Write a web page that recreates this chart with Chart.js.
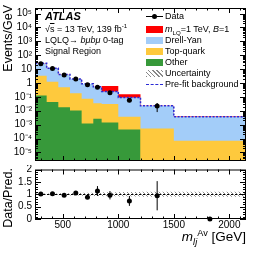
<!DOCTYPE html>
<html>
<head>
<meta charset="utf-8">
<script src="https://cdn.jsdelivr.net/npm/chart.js@4.4.1/dist/chart.umd.min.js"></script>
<style>
  html, body { margin: 0; padding: 0; background: #fff; }
  body { width: 266px; height: 255px; position: relative; overflow: hidden;
         font-family: 'Liberation Sans', Arial, sans-serif; color: #000; }
  canvas { position: absolute; left: 0; }
  #main { top: 0; }
  #ratio { top: 165px; }
  .txt { position: absolute; white-space: nowrap; font-size: 9px; line-height: 12px; }
  .box { position: absolute; left: 146px; width: 17px; height: 7px; }
  .vt { position: absolute; left: 1px; width: 90px; transform-origin: 0 0; transform: rotate(-90deg);
        text-align: right; white-space: nowrap; font-size: 12.5px; line-height: 14px; }
  sub, sup { font-size: 0.68em; line-height: 0; }
</style>
</head>
<body>
<canvas id="main" width="266" height="165"></canvas>
<canvas id="ratio" width="266" height="90"></canvas>

<div class="txt" style="left:45px;top:10px;font-size:11px;font-weight:bold;font-style:italic">ATLAS</div>
<div class="txt" style="left:45px;top:23px">√<span style="text-decoration:overline">s</span> = 13 TeV, 139 fb<sup>-1</sup></div>
<div class="txt" style="left:45px;top:34px">LQLQ→ <i>bμbμ</i> 0-tag</div>
<div class="txt" style="left:45px;top:45px">Signal Region</div>

<div style="position:absolute;left:146px;top:16px;width:17px;height:1px;background:#000"></div>
<div style="position:absolute;left:152px;top:14px;width:5px;height:5px;border-radius:50%;background:#000"></div>
<div class="txt" style="left:165px;top:10px">Data</div>
<div class="box" style="top:26px;background:#ff0000"></div>
<div class="txt" style="left:165px;top:23px"><i>m</i><sub>LQ</sub>=1 TeV, <i>B</i>=1</div>
<div class="box" style="top:37px;background:#a3cdf9"></div>
<div class="txt" style="left:165px;top:34px">Drell-Yan</div>
<div class="box" style="top:48px;background:#fec93d"></div>
<div class="txt" style="left:165px;top:45px">Top-quark</div>
<div class="box" style="top:59px;background:#37993a"></div>
<div class="txt" style="left:165px;top:56px">Other</div>
<div class="box" style="top:70px;background:repeating-linear-gradient(45deg,#888 0 1px,#fff 1px 3px)"></div>
<div class="txt" style="left:165px;top:67px">Uncertainty</div>
<div style="position:absolute;left:146px;top:84px;width:17px;border-top:1.5px dashed #2a2ad4"></div>
<div class="txt" style="left:165px;top:78px">Pre-fit background</div>

<div class="vt" style="top:95px">Events/GeV</div>
<div class="vt" style="top:258px">Data/Pred.</div>
<div class="txt" style="right:20px;top:229px;font-size:13.5px;line-height:16px"><i>m</i><sub><i>lj</i></sub><sup>Av</sup> [GeV]</div>

<script>
// bin edges in GeV (last bin runs to the plot edge)
const binEdges = [250, 355, 460, 565, 670, 775, 850, 1000, 1200, 1500, 2150];

// Events/GeV per bin
const otherBkg  = [0.124, 0.042, 0.018, 0.0105, 0.0012, 0.0027, 0.0014, 0.00044]; // stops at 1200 GeV
const topQuark  = [3.2, 1.2, 0.47, 0.17, 0.071, 0.032, 0.029, 0.0033, 0.00053, 0.000069];
const drellYan  = [22.2, 10.0, 3.4, 1.75, 0.78, 0.49, 0.21, 0.085, 0.0215, 0.0035];
const signalLQ  = [0, 0, 0, 0.001, 0.003, 0.008, 0.37, 0.066, 0.0012, 0.0002];
const prefitBkg = [26, 11.6, 4.0, 1.96, 0.87, 0.53, 0.245, 0.09, 0.0225, 0.0037];

// data (last bin is empty)
const dataObs = [24, 10.8, 3.8, 1.9, 0.74, 0.5, 0.2, 0.058, 0.022];
const dataErr = [0.5, 0.3, 0.17, 0.1, 0.05, 0.09, 0.036, 0.016, 0.014];

// lower panel
const ratioVals = [1.01, 1.02, 0.96, 1.05, 0.88, 1.13, 0.96, 0.73, 0.94, 0];
const ratioErr  = [0.02, 0.03, 0.04, 0.05, 0.06, 0.2, 0.17, 0.2, 0.59, 0];
const ratioUnc  = [0.03, 0.03, 0.04, 0.05, 0.06, 0.07, 0.08, 0.09, 0.1, 0.1];

// axes
const xMin = 250, xMax = 2150;
const xTickVals   = [500, 1000, 1500, 2000];
const xTickLabels = ['500', '1000', '1500', '2000'];
const yMin = 2.4e-6, yMax = 2.5e5;
const yTickVals   = [1e-5, 1e-4, 1e-3, 1e-2, 1e-1, 1, 10, 1e2, 1e3, 1e4, 1e5];
const yTickLabels = ['10⁻⁵', '10⁻⁴', '10⁻³', '10⁻²', '10⁻¹', '1', '10', '10²', '10³', '10⁴', '10⁵'];
const rTickVals   = [0, 0.5, 1, 1.5, 2];
const rTickLabels = ['0', '0.5', '1', '1.5', '2'];

Chart.defaults.font.family = "'Liberation Sans', Arial, sans-serif";
Chart.defaults.font.size = 10;
Chart.defaults.color = '#000';

const NONE = 'rgba(0,0,0,0)';
const centers = binEdges.slice(0, -1).map((e, i) => (e + binEdges[i + 1]) / 2);

// histogram -> points for a stepped line
function steps(vals) {
  const pts = vals.map((v, i) => ({ x: binEdges[i], y: v }));
  pts.push({ x: binEdges[vals.length], y: vals[vals.length - 1] });
  return pts;
}
function cumulate(...layers) {
  const n = Math.max(...layers.map(l => l.length));
  return Array.from({ length: n }, (_, i) => layers.reduce((s, l) => s + (l[i] || 0), 0));
}
function stackLayer(vals, color) {
  return { data: steps(vals), stepped: true, fill: 'start', backgroundColor: color,
           borderColor: NONE, borderWidth: 1, pointRadius: 0 };
}
function hatchPattern() {
  const c = document.createElement('canvas');
  c.width = 4; c.height = 4;
  const g = c.getContext('2d');
  g.strokeStyle = '#8c8c8c'; g.lineWidth = 1;
  g.beginPath();
  g.moveTo(0, 0); g.lineTo(4, 4);
  g.moveTo(-2, 2); g.lineTo(2, 6);
  g.moveTo(2, -2); g.lineTo(6, 2);
  g.stroke();
  return g.createPattern(c, 'repeat');
}
const fixedY = w => s => { s.width = w; s.paddingTop = 0; s.paddingBottom = 0; };

const errorBars = (xs, vals, errs) => ({
  id: 'errorBars',
  afterDatasetsDraw(chart) {
    const { ctx, scales: { x, y } } = chart;
    ctx.save();
    ctx.strokeStyle = '#000'; ctx.lineWidth = 1;
    ctx.beginPath();
    vals.forEach((v, i) => {
      if (!errs[i]) return;
      const px = x.getPixelForValue(xs[i]);
      ctx.moveTo(px, y.getPixelForValue(v + errs[i]));
      ctx.lineTo(px, y.getPixelForValue(Math.max(v - errs[i], y.min)));
    });
    ctx.stroke();
    ctx.restore();
  }
});

// ATLAS style frame with inward ticks on all sides
const axisFrame = (yMajors, yMinors) => ({
  id: 'axisFrame',
  afterDraw(chart) {
    const { ctx, chartArea: a, scales: { x, y } } = chart;
    ctx.save();
    ctx.strokeStyle = '#000'; ctx.lineWidth = 1;
    ctx.strokeRect(a.left + 0.5, a.top + 0.5, a.right - a.left - 1, a.bottom - a.top - 1);
    ctx.beginPath();
    for (let v = 300; v < xMax; v += 100) {
      const px = Math.round(x.getPixelForValue(v)) + 0.5;
      const len = v % 500 === 0 ? 5 : 2.5;
      ctx.moveTo(px, a.bottom); ctx.lineTo(px, a.bottom - len);
      ctx.moveTo(px, a.top); ctx.lineTo(px, a.top + len);
    }
    const yTick = (v, len) => {
      const py = Math.round(y.getPixelForValue(v)) + 0.5;
      ctx.moveTo(a.left, py); ctx.lineTo(a.left + len, py);
      ctx.moveTo(a.right, py); ctx.lineTo(a.right - len, py);
    };
    yMajors.forEach(v => yTick(v, 6));
    yMinors.forEach(v => yTick(v, 3));
    ctx.stroke();
    ctx.restore();
  }
});

const logMinors = [];
for (let k = -6; k <= 5; k++) {
  for (let m = 2; m <= 9; m++) {
    const v = m * Math.pow(10, k);
    if (v > yMin && v < yMax) logMinors.push(v);
  }
}
const ratioMinors = [];
for (let i = 1; i < 20; i++) if (i % 5) ratioMinors.push(i / 10);

const unityLine = {
  id: 'unityLine',
  beforeDatasetsDraw(chart) {
    const { ctx, chartArea: a, scales: { y } } = chart;
    const py = Math.round(y.getPixelForValue(1)) + 0.5;
    ctx.save();
    ctx.setLineDash([2, 2]);
    ctx.strokeStyle = '#000'; ctx.lineWidth = 1;
    ctx.beginPath(); ctx.moveTo(a.left, py); ctx.lineTo(a.right, py); ctx.stroke();
    ctx.restore();
  }
};

const yellowTop = cumulate(otherBkg, topQuark);
const blueTop   = cumulate(otherBkg, topQuark, drellYan);
const redTop    = cumulate(otherBkg, topQuark, drellYan, signalLQ);

const base = {
  responsive: false,
  animation: false,
  events: [],
  plugins: { legend: { display: false }, tooltip: { enabled: false } },
};

new Chart(document.getElementById('main'), {
  type: 'line',
  data: {
    datasets: [
      { data: dataObs.map((v, i) => ({ x: centers[i], y: v })), showLine: false,
        pointRadius: 2.5, pointBorderWidth: 0, pointBackgroundColor: '#000', clip: false },
      { data: steps(prefitBkg), stepped: true, fill: false, borderColor: '#2a2ad4',
        borderWidth: 1.5, borderDash: [2, 1.5], pointRadius: 0 },
      stackLayer(otherBkg, '#37993a'),
      stackLayer(yellowTop, '#fec93d'),
      stackLayer(blueTop, '#a3cdf9'),
      stackLayer(redTop, '#ff0000'),
    ],
  },
  options: {
    ...base,
    layout: { padding: { top: 8, right: 20, bottom: 2, left: 0 } },
    scales: {
      x: { type: 'linear', min: xMin, max: xMax, display: false },
      y: {
        type: 'logarithmic', min: yMin, max: yMax,
        grid: { display: false, drawTicks: false }, border: { display: false },
        afterBuildTicks: s => { s.ticks = yTickVals.map(v => ({ value: v })); },
        afterFit: fixedY(35),
        ticks: { padding: 3, autoSkip: false, callback: (v, i) => yTickLabels[i] },
      },
    },
  },
  plugins: [errorBars(centers, dataObs, dataErr), axisFrame(yTickVals, logMinors)],
});

new Chart(document.getElementById('ratio'), {
  type: 'line',
  data: {
    datasets: [
      { data: ratioVals.map((v, i) => ({ x: centers[i], y: v })), showLine: false,
        pointRadius: 2.5, pointBorderWidth: 0, pointBackgroundColor: '#000', clip: false },
      { data: steps(ratioUnc.map(u => 1 + u)), stepped: true, fill: '+1',
        backgroundColor: hatchPattern(), borderColor: NONE, pointRadius: 0 },
      { data: steps(ratioUnc.map(u => 1 - u)), stepped: true, fill: false,
        borderColor: NONE, pointRadius: 0 },
    ],
  },
  options: {
    ...base,
    layout: { padding: { top: 4.5, right: 20, bottom: 0, left: 0 } },
    scales: {
      x: {
        type: 'linear', min: xMin, max: xMax,
        grid: { display: false, drawTicks: false }, border: { display: false },
        afterBuildTicks: s => { s.ticks = xTickVals.map(v => ({ value: v })); },
        afterFit: s => { s.height = 36; s.paddingLeft = 0; s.paddingRight = 0; },
        ticks: { padding: 0, maxRotation: 0, autoSkip: false, callback: (v, i) => xTickLabels[i] },
      },
      y: {
        min: 0, max: 2,
        grid: { display: false, drawTicks: false }, border: { display: false },
        afterBuildTicks: s => { s.ticks = rTickVals.map(v => ({ value: v })); },
        afterFit: fixedY(35),
        ticks: { padding: 3, autoSkip: false, callback: (v, i) => rTickLabels[i] },
      },
    },
  },
  plugins: [unityLine, errorBars(centers, ratioVals, ratioErr), axisFrame(rTickVals, ratioMinors)],
});
</script>
</body>
</html>
